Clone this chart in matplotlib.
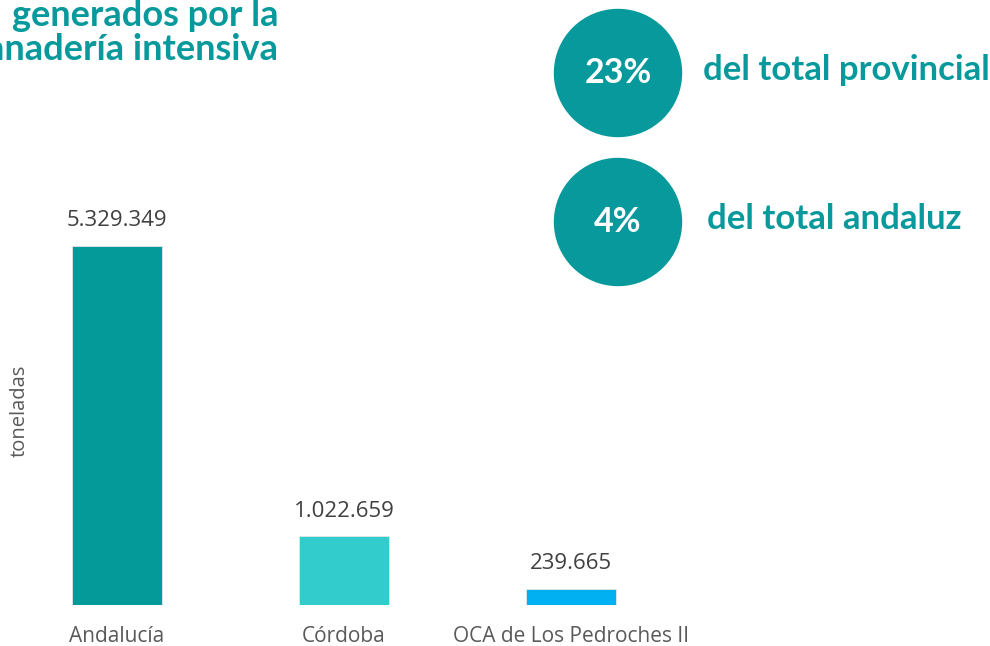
import matplotlib.pyplot as plt
from matplotlib.patches import Circle

# residuos ganaderos (toneladas)
zonas = ['Andalucía', 'Córdoba', 'OCA de Los Pedroches II']
toneladas = [5329349, 1022659, 239665]
colores = ['#049a9a', '#33cccc', '#00b0f0']

porcentajes = ['23%', '4%']
textos_pct = ['del total provincial', 'del total andaluz']

teal = '#07999b'
gris = '#595959'

def fmt_es(v):
    return '{:,}'.format(v).replace(',', '.')

W, H = 990, 646
fig = plt.figure(figsize=(W / 100, H / 100), dpi=100)

#---------bar chart----------
ax = fig.add_axes([3.5 / W, 41 / H, 681 / W, 405 / H])
x = range(len(zonas))
bars = ax.bar(x, toneladas, width=0.4, color=colores, edgecolor='#e6e6e6', linewidth=0.6)
ax.set_xlim(-0.5, 2.5)
ax.set_ylim(0, 405 / 359 * toneladas[0])
off = toneladas[0] * 25 / 359   # gap between bar top and its label
for b, v in zip(bars, toneladas):
    ax.text(b.get_x() + b.get_width() / 2, v + off, fmt_es(v),
            ha='center', va='center', fontsize=16, color='#404040', family='Open Sans')
ax.set_xticks(list(x))
ax.set_xticklabels(zonas, fontsize=15, color=gris, family='Open Sans')
ax.tick_params(axis='x', length=0, pad=15)
ax.set_yticks([])
for s in ax.spines.values():
    s.set_visible(False)
fig.text(20 / W, 1 - 411 / H, 'toneladas', rotation=90, ha='center', va='center',
         fontsize=14.5, color=gris, family='Open Sans')

#---------title (cut at the left edge)----------
fig.text(278 / W, 1 - 15 / H, 'generados por la', ha='right', va='center',
         fontsize=26, fontweight='bold', color=teal, family='Lato')
fig.text(278 / W, 1 - 50 / H, 'ganadería intensiva', ha='right', va='center',
         fontsize=26, fontweight='bold', color=teal, family='Lato')

#---------circles with percentages----------
ov = fig.add_axes([0, 0, 1, 1])
ov.set_xlim(0, W)
ov.set_ylim(H, 0)
ov.axis('off')
centros = [(618, 73), (618, 222)]
txt_x = [703, 707]
for (cx, cy), p, t, tx in zip(centros, porcentajes, textos_pct, txt_x):
    ov.add_patch(Circle((cx, cy), 63.5, color=teal))
    ov.text(cx, cy, p, ha='center', va='center', fontsize=24.5, fontweight='bold',
            color='white', family='Lato')
    ov.text(tx, cy - 3, t, ha='left', va='center', fontsize=25, fontweight='bold',
            color=teal, family='Lato')

fig.savefig('out.png', dpi=100)
